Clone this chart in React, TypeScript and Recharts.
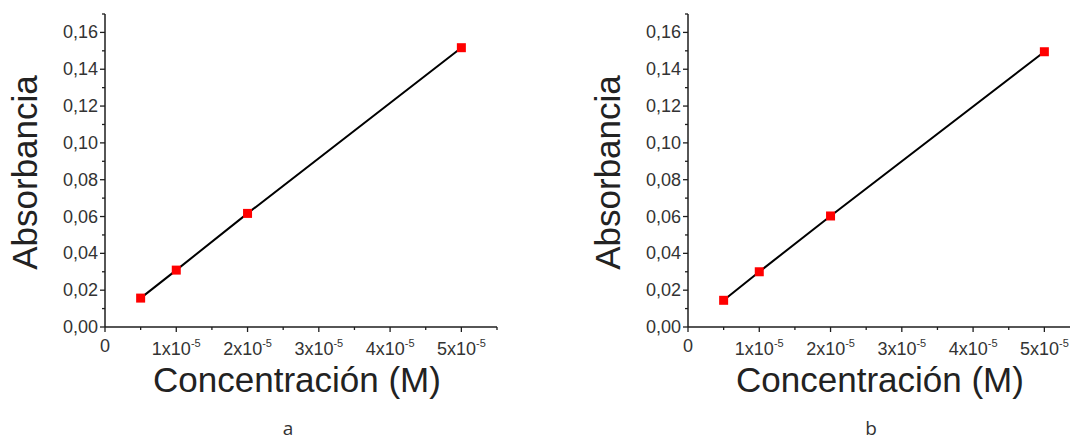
import React from 'react';
import { LineChart, Line, XAxis, YAxis, Label } from 'recharts';

// concentration (M) and absorbance
const concentration = [0.000005, 0.00001, 0.00002, 0.00005];
const absorbanceA = [0.0157, 0.0309, 0.0617, 0.1517];
const absorbanceB = [0.0145, 0.03, 0.0603, 0.1495];

const xTicks = [0, 0.000005, 0.00001, 0.000015, 0.00002, 0.000025, 0.00003, 0.000035, 0.00004, 0.000045, 0.00005, 0.000055];
const xTickLabels = ['0', '', '1x10', '', '2x10', '', '3x10', '', '4x10', '', '5x10', ''];
const xExponent = '-5';

const yTicks = [0, 0.01, 0.02, 0.03, 0.04, 0.05, 0.06, 0.07, 0.08, 0.09, 0.1, 0.11, 0.12, 0.13, 0.14, 0.15, 0.16, 0.17];
const yTickLabels = ['0,00', '', '0,02', '', '0,04', '', '0,06', '', '0,08', '', '0,10', '', '0,12', '', '0,14', '', '0,16', ''];

const panelCaptions = ['a', 'b'];
const xTitle = 'Concentración (M)';
const yTitle = 'Absorbancia';

const FONT = '"Liberation Sans", Arial, sans-serif';
const AXIS = '#1e1e1e';
const TEXT = '#333333';

const YTick = (props: any) => {
  const { x, y, index } = props;
  const label = yTickLabels[index] || '';
  const len = label ? 5 : 3;
  return (
    <g>
      <line x1={x - len} x2={x} y1={y} y2={y} stroke={AXIS} strokeWidth={1.3} />
      {label && (
        <text x={x - 7} y={y + 6} textAnchor="end" fontSize={18} fill={TEXT} fontFamily={FONT}>
          {label}
        </text>
      )}
    </g>
  );
};

const XTick = (props: any) => {
  const { x, y, index } = props;
  const label = xTickLabels[index] || '';
  const len = label ? 5 : 3;
  return (
    <g>
      <line x1={x} x2={x} y1={y} y2={y + len} stroke={AXIS} strokeWidth={1.3} />
      {label === '0' && (
        <text x={x} y={y + 24.5} textAnchor="middle" fontSize={18} fill={TEXT} fontFamily={FONT}>
          0
        </text>
      )}
      {label && label !== '0' && (
        <text x={x} y={y + 28} textAnchor="middle" fontSize={18} fill={TEXT} fontFamily={FONT}>
          <tspan>{label}</tspan>
          <tspan dy={-8} fontSize={11}>{xExponent}</tspan>
        </text>
      )}
    </g>
  );
};

const SquareDot = (props: any) => {
  const { cx, cy, index } = props;
  return <rect key={index} x={cx - 4.5} y={cy - 4.5} width={9} height={9} fill="#ff0000" />;
};

const XTitle = (props: any) => {
  const { viewBox } = props;
  if (!viewBox) return null;
  return (
    <text x={viewBox.x + viewBox.width / 2 - 4} y={viewBox.y + 65} textAnchor="middle" fontSize={35} fill="#222" fontFamily={FONT}>
      {xTitle}
    </text>
  );
};

const YTitle = (props: any) => {
  const { viewBox } = props;
  if (!viewBox) return null;
  const cx = 37;
  const cy = viewBox.y + viewBox.height / 2 + 2;
  return (
    <text x={cx} y={cy} transform={`rotate(-90, ${cx}, ${cy})`} textAnchor="middle" fontSize={35} fill="#222" fontFamily={FONT}>
      {yTitle}
    </text>
  );
};

const Panel = ({ values }: { values: number[] }) => {
  const rows = concentration.map((c, i) => ({ c, abs: values[i] }));
  return (
    <LineChart width={520} height={441} data={rows} margin={{ top: 14, right: 23, left: 0, bottom: 0 }}>
      <XAxis
        dataKey="c"
        type="number"
        domain={[0, 0.000055]}
        ticks={xTicks}
        interval={0}
        height={114}
        tickSize={0}
        tickMargin={0}
        tickLine={false}
        axisLine={{ stroke: AXIS, strokeWidth: 1.5 }}
        tick={<XTick />}
      >
        <Label content={<XTitle />} />
      </XAxis>
      <YAxis
        type="number"
        domain={[0, 0.17]}
        ticks={yTicks}
        interval={0}
        width={105}
        tickSize={0}
        tickMargin={0}
        tickLine={false}
        axisLine={{ stroke: AXIS, strokeWidth: 1.5 }}
        tick={<YTick />}
      >
        <Label content={<YTitle />} />
      </YAxis>
      <Line
        type="linear"
        dataKey="abs"
        stroke="#000"
        strokeWidth={2}
        dot={SquareDot}
        activeDot={false}
        isAnimationActive={false}
      />
    </LineChart>
  );
};

export default function App() {
  return (
    <div style={{ position: 'fixed', left: 0, top: 0, width: 1070, height: 441, overflow: 'hidden', background: '#fff' }}>
      <div style={{ position: 'absolute', left: 0, top: 0 }}>
        <Panel values={absorbanceA} />
      </div>
      <div style={{ position: 'absolute', left: 583, top: 0 }}>
        <Panel values={absorbanceB} />
      </div>
      <svg width={1070} height={441} style={{ position: 'absolute', left: 0, top: 0, pointerEvents: 'none' }}>
        <text x={288} y={435} textAnchor="middle" fontSize={19} fill={TEXT} fontFamily='"Open Sans", sans-serif'>
          {panelCaptions[0]}
        </text>
        <text x={871} y={435} textAnchor="middle" fontSize={19} fill={TEXT} fontFamily='"Open Sans", sans-serif'>
          {panelCaptions[1]}
        </text>
      </svg>
    </div>
  );
}
